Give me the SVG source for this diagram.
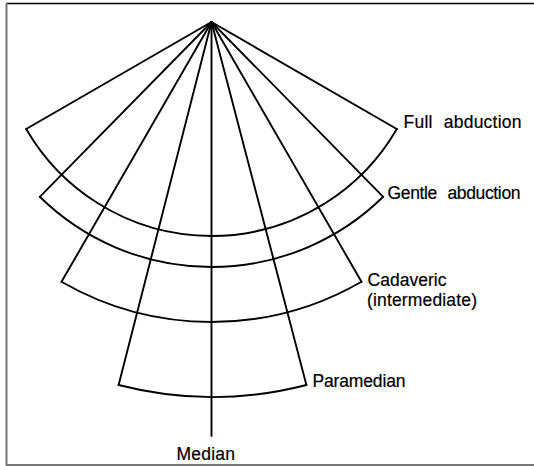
<svg xmlns="http://www.w3.org/2000/svg" width="534" height="466" viewBox="0 0 534 466">
<style>
.ln{stroke:#000;stroke-width:1.9;fill:none;stroke-linecap:round;stroke-linejoin:round}
.lb{font-family:"Liberation Sans","Open Sans",sans-serif;font-size:17.5px;fill:#000;stroke:#000;stroke-width:0.2}
</style>
<rect x="0" y="0" width="534" height="466" fill="#fff"/>
<g id="frame">
<line x1="6" y1="3.5" x2="534" y2="3.5" stroke="#000" stroke-width="1.6"/>
<line x1="6.5" y1="3" x2="6.5" y2="466" stroke="#777" stroke-width="2"/>
<line x1="6" y1="465" x2="534" y2="465" stroke="#777" stroke-width="2"/>
</g>
<g id="connectors">
<line class="ln" x1="211.5" y1="22" x2="26.2" y2="129"/>
<line class="ln" x1="211.5" y1="22" x2="396.8" y2="129"/>
<line class="ln" x1="211.5" y1="22" x2="39.8" y2="196.8"/>
<line class="ln" x1="211.5" y1="22" x2="383.2" y2="196.8"/>
<line class="ln" x1="211.5" y1="22" x2="61.5" y2="281.8"/>
<line class="ln" x1="211.5" y1="22" x2="361.5" y2="281.8"/>
<line class="ln" x1="211.5" y1="22" x2="118.6" y2="385"/>
<line class="ln" x1="211.5" y1="22" x2="306.4" y2="385"/>
<line class="ln" x1="211.5" y1="22" x2="211.5" y2="436"/>
</g>
<g id="full-abduction">
<path class="ln" d="M26.2,129 A214,214 0 0 0 396.8,129"/>
<text class="lb" x="403.5" y="127.5" word-spacing="6" textLength="118" lengthAdjust="spacing">Full abduction</text>
</g>
<g id="gentle-abduction">
<path class="ln" d="M39.8,196.8 A245,245 0 0 0 383.2,196.8"/>
<text class="lb" x="387.5" y="198.5" word-spacing="6" textLength="133" lengthAdjust="spacing">Gentle abduction</text>
</g>
<g id="cadaveric">
<path class="ln" d="M61.5,281.8 A300,300 0 0 0 361.5,281.8"/>
<text class="lb"><tspan x="367.5" y="285.5" textLength="79" lengthAdjust="spacing">Cadaveric</tspan><tspan x="367" y="305.5" textLength="110" lengthAdjust="spacing">(intermediate)</tspan></text>
</g>
<g id="paramedian">
<path class="ln" d="M118.6,385 A375,375 0 0 0 306.4,385"/>
<text class="lb" x="312.5" y="387" textLength="93" lengthAdjust="spacing">Paramedian</text>
</g>
<g id="median">
<text class="lb" x="176.5" y="460" textLength="58.5" lengthAdjust="spacing">Median</text>
</g>
</svg>
